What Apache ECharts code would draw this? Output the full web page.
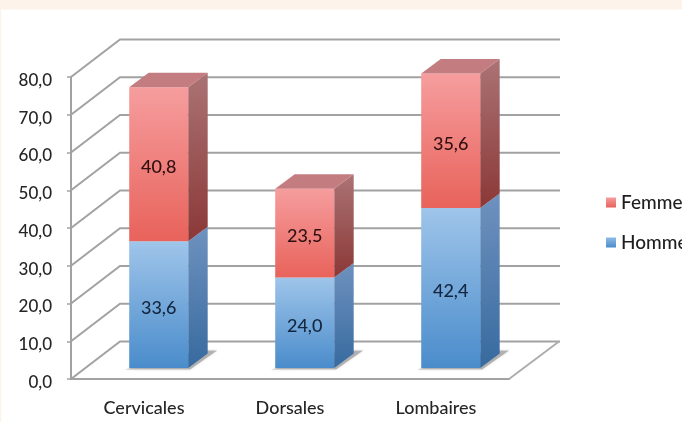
<!DOCTYPE html>
<html>
<head>
<meta charset="utf-8">
<style>
  html, body { margin: 0; padding: 0; background: #fff; }
  #main { width: 682px; height: 422px; filter: blur(0.4px); }
</style>
<script src="https://cdn.jsdelivr.net/npm/echarts@6/dist/echarts.min.js"></script>
</head>
<body>
<div id="main"></div>
<script>
const categories = ['Cervicales', 'Dorsales', 'Lombaires'];
const hommes = [33.6, 24.0, 42.4];
const femmes = [40.8, 23.5, 35.6];
const yTicks = [0, 10, 20, 30, 40, 50, 60, 70, 80];

const FONT = 'Lato, "Noto Sans", sans-serif';
const comma = (v) => v.toFixed(1).replace('.', ',');
const grad = (top, bottom) => new echarts.graphic.LinearGradient(0, 0, 0, 1, [
  { offset: 0, color: top },
  { offset: 1, color: bottom }
]);

// back wall of the fake 3D box
const renderWall = (params, api) => {
  const cs = params.coordSys;
  const y = api.coord([0, api.value(0)])[1];
  const left = cs.x;
  const right = cs.x + cs.width;
  const children = [
    {
      type: 'polyline',
      shape: { points: [[left, y], [left + 49, y - 37.5], [right + 51, y - 37.5]] },
      style: { stroke: '#a2a2a2', lineWidth: 2, fill: 'none' }
    }
  ];
  if (api.value(0) === 0) {
    children.push({
      type: 'polyline',
      shape: { points: [[right, y], [right + 50, y - 37.5]] },
      style: { stroke: '#adadad', lineWidth: 2, fill: 'none' }
    });
  }
  return { type: 'group', children };
};

// one stacked block: front face, side face, and lid on the top one
const renderBlock = (colors, isTop) => (params, api) => {
  const band = api.size([1, 0])[0];
  const w = band * 0.404;
  const cx = api.coord([api.value(0), 0])[0] + 14.7;
  const x0 = cx - w / 2;
  const x1 = cx + w / 2;
  const yTop = api.coord([api.value(0), api.value(1)])[1] - 11;
  const yBase = api.coord([api.value(0), api.value(2)])[1] - 11;
  const dx = 19.5;
  const dy = 14.5;
  const children = [];
  if (!isTop) {
    children.push({
      type: 'polygon',
      shape: { points: [[x0 - 4, yBase + 1.5], [x1 + 2, yBase + 1.5], [x1 + 29, yBase - 17.5], [x1 + 10, yBase - 17.5]] },
      style: { fill: 'rgba(100,100,100,0.42)', shadowBlur: 3, shadowColor: 'rgba(100,100,100,0.45)' }
    });
  }
  children.push({
    type: 'polygon',
    shape: { points: [[x1, yBase], [x1 + dx, yBase - dy], [x1 + dx, yTop - dy], [x1, yTop]] },
    style: { fill: grad(colors.sideTop, colors.sideBottom) }
  });
  children.push({
    type: 'rect',
    shape: { x: x0, y: yTop, width: w, height: yBase - yTop },
    style: { fill: grad(colors.frontTop, colors.frontBottom) }
  });
  if (isTop) {
    children.push({
      type: 'polygon',
      shape: { points: [[x0, yTop], [x1, yTop], [x1 + dx, yTop - dy], [x0 + dx, yTop - dy]] },
      style: { fill: colors.lid }
    });
  }
  children.push({
    type: 'text',
    style: {
      text: comma(api.value(1) - api.value(2)),
      x: cx,
      y: (yTop + yBase) / 2 + 3.5,
      textAlign: 'center',
      textVerticalAlign: 'middle',
      font: '500 18px ' + FONT,
      fill: colors.text
    }
  });
  return { type: 'group', children };
};

const hommeColors = {
  frontTop: '#9fc5ea', frontBottom: '#4a8ccb',
  sideTop: '#6f92bf', sideBottom: '#376a9f',
  text: '#14263f'
};
const femmeColors = {
  frontTop: '#f69d9e', frontBottom: '#e8635b',
  sideTop: '#ab7375', sideBottom: '#8b3836',
  lid: '#c37c80', text: '#301012'
};

const myChart = echarts.init(document.getElementById('main'), null, { renderer: 'canvas' });
let option = {
  backgroundColor: '#ffffff',
  animation: false,
  graphic: [
    { type: 'rect', z: 100, shape: { x: 0, y: 0, width: 682, height: 9.5 }, style: { fill: '#fdf3ea' } },
    { type: 'rect', z: 100, shape: { x: 0, y: 0, width: 1.2, height: 422 }, style: { fill: '#fdf3ea' } }
  ],
  grid: { left: 71, right: 173, top: 77, bottom: 43, containLabel: false },
  legend: {
    data: ['Femme', 'Homme'],
    orient: 'vertical',
    left: 606,
    top: 193,
    padding: 0,
    itemWidth: 10,
    itemHeight: 10,
    itemGap: 21,
    icon: 'rect',
    textStyle: { fontFamily: FONT, fontWeight: 500, fontSize: 19, color: '#1f1f1f', padding: [3, 0, 0, 0] }
  },
  xAxis: {
    type: 'category',
    data: categories,
    axisLine: { lineStyle: { color: '#a2a2a2', width: 2 } },
    axisTick: { length: 4, lineStyle: { color: '#a2a2a2', width: 1.5 } },
    axisLabel: { fontFamily: FONT, fontWeight: 500, fontSize: 18, color: '#262626', margin: 20 }
  },
  yAxis: {
    type: 'value',
    min: 0,
    max: 80,
    interval: 10,
    splitLine: { show: false },
    axisLine: { show: true, lineStyle: { color: '#a2a2a2', width: 2 } },
    axisTick: { show: true, length: 4, lineStyle: { color: '#a2a2a2', width: 1.5 } },
    axisLabel: { fontFamily: FONT, fontWeight: 500, fontSize: 17, color: '#262626', margin: 19, verticalAlign: 'top', lineHeight: 7, formatter: (v) => comma(v) }
  },
  series: [
    {
      name: 'wall',
      type: 'custom',
      silent: true,
      renderItem: renderWall,
      clip: false,
      data: yTicks.map((t) => [t]),
      encode: { y: 0 }
    },
    {
      name: 'Homme',
      type: 'custom',
      renderItem: renderBlock(hommeColors, false),
      clip: false,
      itemStyle: { color: grad('#8fbbe6', '#4a8ccb') },
      data: categories.map((c, i) => [i, hommes[i], 0]),
      encode: { x: 0, y: 1 }
    },
    {
      name: 'Femme',
      type: 'custom',
      renderItem: renderBlock(femmeColors, true),
      clip: false,
      itemStyle: { color: grad('#f69d9e', '#e8635b') },
      data: categories.map((c, i) => [i, hommes[i] + femmes[i], hommes[i]]),
      encode: { x: 0, y: 1 }
    }
  ]
};
option && myChart.setOption(option);
</script>
</body>
</html>
